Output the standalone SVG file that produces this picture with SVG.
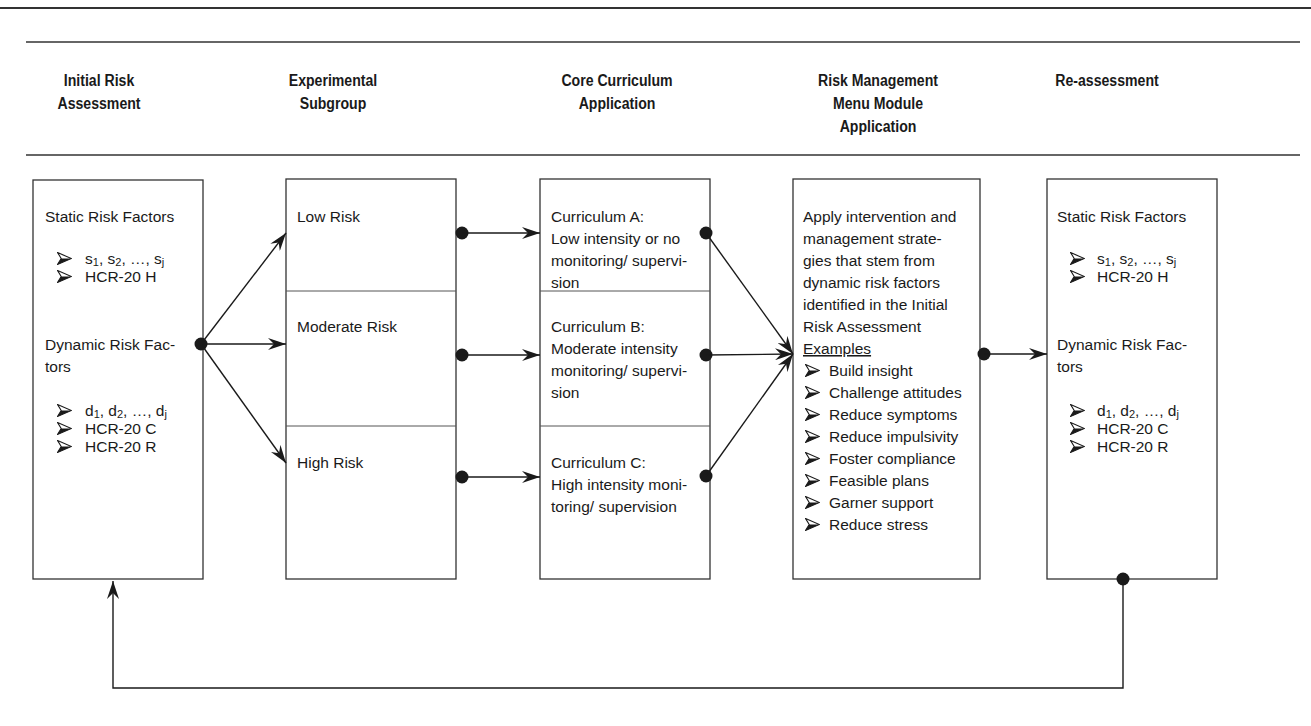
<svg xmlns="http://www.w3.org/2000/svg" xmlns:xlink="http://www.w3.org/1999/xlink" width="1311" height="726" viewBox="0 0 1311 726">
<style>
.bg{fill:#fff}
.rule{stroke:#333;stroke-width:1.3;fill:none}
.box{fill:#fff;stroke:#333;stroke-width:1.3}
.div{stroke:#555;stroke-width:1}
.hd{font-family:"Liberation Sans",Arial,sans-serif;font-weight:bold;font-size:17px;fill:#1a1a1a;text-anchor:middle}
.t{font-family:"Liberation Sans",Arial,sans-serif;font-size:15.5px;fill:#1a1a1a}
.sub{font-size:11px}
.con{stroke:#1a1a1a;stroke-width:1.4;fill:none}
.dot{fill:#1a1a1a}
</style>
<defs>
<marker id="ah" viewBox="0 0 18 12" refX="18" refY="6" markerWidth="18" markerHeight="12" markerUnits="userSpaceOnUse" orient="auto">
<path d="M0,0 L18,6 L0,12 L6,6 z" fill="#1a1a1a"/>
</marker>
<symbol id="blt" viewBox="0 0 15 13" width="15" height="13">
<path d="M0.6,0.6 L14.4,6.5 L0.6,12.4 L4.2,6.5 Z" fill="#fff" stroke="#1a1a1a" stroke-width="1.1" stroke-linejoin="miter"/>
<path d="M4.2,6.5 L14.4,6.5 L0.6,12.4 Z" fill="#1a1a1a"/>
</symbol>
</defs>
<rect class="bg" x="0" y="0" width="1311" height="726"/>
<g id="rules">
<line class="rule" x1="0" y1="8" x2="1311" y2="8" style="stroke-width:2"/>
<line class="rule" x1="26" y1="42" x2="1300" y2="42"/>
<line class="rule" x1="26" y1="155" x2="1300" y2="155"/>
</g>
<g id="headers">
<text class="hd" transform="translate(99,86) scale(0.83,1)">Initial Risk</text>
<text class="hd" transform="translate(99,109) scale(0.83,1)">Assessment</text>
<text class="hd" transform="translate(333,86) scale(0.83,1)">Experimental</text>
<text class="hd" transform="translate(333,109) scale(0.83,1)">Subgroup</text>
<text class="hd" transform="translate(617,86) scale(0.83,1)">Core Curriculum</text>
<text class="hd" transform="translate(617,109) scale(0.83,1)">Application</text>
<text class="hd" transform="translate(878,86) scale(0.83,1)">Risk Management</text>
<text class="hd" transform="translate(878,109) scale(0.83,1)">Menu Module</text>
<text class="hd" transform="translate(878,132) scale(0.83,1)">Application</text>
<text class="hd" transform="translate(1107,86) scale(0.83,1)">Re-assessment</text>
</g>
<g id="initial-risk-assessment">
<rect class="box" x="33" y="180" width="170" height="399"/>
<text class="t" x="45" y="222">Static Risk Factors</text>
<use xlink:href="#blt" x="57" y="252"/>
<text class="t" x="85" y="264">s<tspan class="sub" dy="2">1</tspan><tspan dy="-2">, s</tspan><tspan class="sub" dy="2">2</tspan><tspan dy="-2">, …, s</tspan><tspan class="sub" dy="2">j</tspan></text>
<use xlink:href="#blt" x="57" y="270"/>
<text class="t" x="85" y="282">HCR-20 H</text>
<text class="t" x="45" y="350">Dynamic Risk Fac-</text>
<text class="t" x="45" y="372">tors</text>
<use xlink:href="#blt" x="57" y="404"/>
<text class="t" x="85" y="416">d<tspan class="sub" dy="2">1</tspan><tspan dy="-2">, d</tspan><tspan class="sub" dy="2">2</tspan><tspan dy="-2">, …, d</tspan><tspan class="sub" dy="2">j</tspan></text>
<use xlink:href="#blt" x="57" y="422"/>
<text class="t" x="85" y="434">HCR-20 C</text>
<use xlink:href="#blt" x="57" y="440"/>
<text class="t" x="85" y="452">HCR-20 R</text>
</g>
<g id="experimental-subgroup">
<rect class="box" x="286" y="179" width="170" height="400"/>
<line class="div" x1="286" y1="291" x2="456" y2="291"/>
<line class="div" x1="286" y1="426" x2="456" y2="426"/>
<text class="t" x="297" y="222">Low Risk</text>
<text class="t" x="297" y="332">Moderate Risk</text>
<text class="t" x="297" y="468">High Risk</text>
</g>
<g id="core-curriculum">
<rect class="box" x="540" y="179" width="170" height="400"/>
<line class="div" x1="540" y1="291" x2="710" y2="291"/>
<line class="div" x1="540" y1="426" x2="710" y2="426"/>
<text class="t" x="551" y="222">Curriculum A:</text>
<text class="t" x="551" y="244">Low intensity or no</text>
<text class="t" x="551" y="266">monitoring/ supervi-</text>
<text class="t" x="551" y="288">sion</text>
<text class="t" x="551" y="332">Curriculum B:</text>
<text class="t" x="551" y="354">Moderate intensity</text>
<text class="t" x="551" y="376">monitoring/ supervi-</text>
<text class="t" x="551" y="398">sion</text>
<text class="t" x="551" y="468">Curriculum C:</text>
<text class="t" x="551" y="490">High intensity moni-</text>
<text class="t" x="551" y="512">toring/ supervision</text>
</g>
<g id="risk-management">
<rect class="box" x="793" y="179" width="187" height="400"/>
<text class="t" x="803" y="222">Apply intervention and</text>
<text class="t" x="803" y="244">management strate-</text>
<text class="t" x="803" y="266">gies that stem from</text>
<text class="t" x="803" y="288">dynamic risk factors</text>
<text class="t" x="803" y="310">identified in the Initial</text>
<text class="t" x="803" y="332">Risk Assessment</text>
<text class="t" x="803" y="354" text-decoration="underline">Examples</text>
<use xlink:href="#blt" x="805" y="364"/><text class="t" x="829" y="376">Build insight</text>
<use xlink:href="#blt" x="805" y="386"/><text class="t" x="829" y="398">Challenge attitudes</text>
<use xlink:href="#blt" x="805" y="408"/><text class="t" x="829" y="420">Reduce symptoms</text>
<use xlink:href="#blt" x="805" y="430"/><text class="t" x="829" y="442">Reduce impulsivity</text>
<use xlink:href="#blt" x="805" y="452"/><text class="t" x="829" y="464">Foster compliance</text>
<use xlink:href="#blt" x="805" y="474"/><text class="t" x="829" y="486">Feasible plans</text>
<use xlink:href="#blt" x="805" y="496"/><text class="t" x="829" y="508">Garner support</text>
<use xlink:href="#blt" x="805" y="518"/><text class="t" x="829" y="530">Reduce stress</text>
</g>
<g id="re-assessment">
<rect class="box" x="1047" y="179" width="170" height="400"/>
<text class="t" x="1057" y="222">Static Risk Factors</text>
<use xlink:href="#blt" x="1070" y="252"/>
<text class="t" x="1097" y="264">s<tspan class="sub" dy="2">1</tspan><tspan dy="-2">, s</tspan><tspan class="sub" dy="2">2</tspan><tspan dy="-2">, …, s</tspan><tspan class="sub" dy="2">j</tspan></text>
<use xlink:href="#blt" x="1070" y="270"/>
<text class="t" x="1097" y="282">HCR-20 H</text>
<text class="t" x="1057" y="350">Dynamic Risk Fac-</text>
<text class="t" x="1057" y="372">tors</text>
<use xlink:href="#blt" x="1070" y="404"/>
<text class="t" x="1097" y="416">d<tspan class="sub" dy="2">1</tspan><tspan dy="-2">, d</tspan><tspan class="sub" dy="2">2</tspan><tspan dy="-2">, …, d</tspan><tspan class="sub" dy="2">j</tspan></text>
<use xlink:href="#blt" x="1070" y="422"/>
<text class="t" x="1097" y="434">HCR-20 C</text>
<use xlink:href="#blt" x="1070" y="440"/>
<text class="t" x="1097" y="452">HCR-20 R</text>
</g>
<g id="connectors">
<circle class="dot" cx="201" cy="344" r="6.5"/>
<line class="con" x1="201" y1="344" x2="286" y2="233" marker-end="url(#ah)"/>
<line class="con" x1="201" y1="344" x2="286" y2="344" marker-end="url(#ah)"/>
<line class="con" x1="201" y1="344" x2="286" y2="463" marker-end="url(#ah)"/>
<circle class="dot" cx="462" cy="233" r="6.5"/>
<circle class="dot" cx="462" cy="355" r="6.5"/>
<circle class="dot" cx="462" cy="477" r="6.5"/>
<line class="con" x1="462" y1="233" x2="540" y2="233" marker-end="url(#ah)"/>
<line class="con" x1="462" y1="355" x2="540" y2="355" marker-end="url(#ah)"/>
<line class="con" x1="462" y1="477" x2="540" y2="477" marker-end="url(#ah)"/>
<circle class="dot" cx="706" cy="233" r="6.5"/>
<circle class="dot" cx="706" cy="355" r="6.5"/>
<circle class="dot" cx="706" cy="476" r="6.5"/>
<line class="con" x1="706" y1="233" x2="793" y2="354" marker-end="url(#ah)"/>
<line class="con" x1="706" y1="355" x2="793" y2="354" marker-end="url(#ah)"/>
<line class="con" x1="706" y1="476" x2="793" y2="354" marker-end="url(#ah)"/>
<circle class="dot" cx="984" cy="354" r="6.5"/>
<line class="con" x1="984" y1="354" x2="1047" y2="354" marker-end="url(#ah)"/>
<circle class="dot" cx="1123" cy="579" r="6.5"/>
<polyline class="con" points="1123,579 1123,688 113,688 113,581" marker-end="url(#ah)"/>
</g>
</svg>
